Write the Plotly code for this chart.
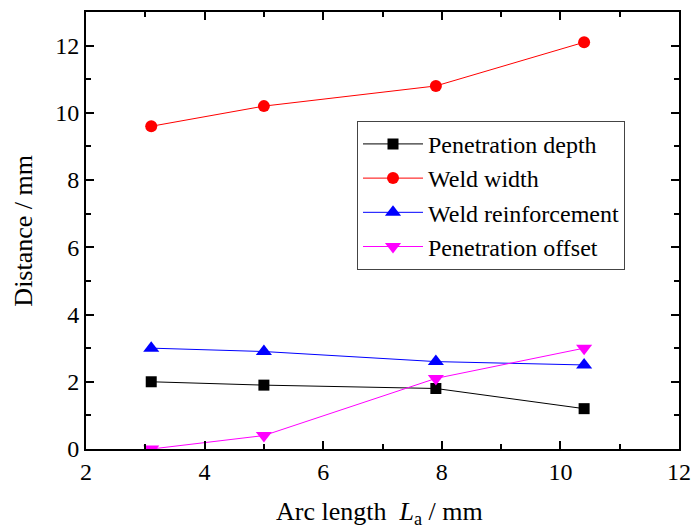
import plotly.graph_objects as go

# Arc length (mm) and measured weld geometry (mm)
arc_length = [3.1, 5.0, 7.9, 10.4]
penetration_depth = [2.0, 1.9, 1.8, 1.2]
weld_width = [9.6, 10.2, 10.8, 12.1]
weld_reinforcement = [3.0, 2.9, 2.6, 2.5]
penetration_offset = [0.0, 0.4, 2.1, 3.0]

series = [
    ("Penetration depth", penetration_depth, "black", "square", 11),
    ("Weld width", weld_width, "red", "circle", 12),
    ("Weld reinforcement", weld_reinforcement, "blue", "triangle-up", 14),
    ("Penetration offset", penetration_offset, "magenta", "triangle-down", 14),
]

FONT = "Liberation Serif"

fig = go.Figure()
for name, values, color, symbol, msize in series:
    fig.add_trace(go.Scatter(
        x=arc_length, y=values, name=name, mode="lines+markers",
        line=dict(color=color, width=1),
        marker=dict(color=color, symbol=symbol, size=msize),
    ))

axis_common = dict(
    showline=True, linecolor="black", linewidth=1.8, mirror="allticks",
    ticks="inside", ticklen=8, tickwidth=1.5, tickcolor="black",
    showgrid=False, zeroline=False, automargin=False,
    tickfont=dict(family=FONT, size=24, color="black"),
)

fig.update_xaxes(
    range=[2, 12], dtick=2, tick0=2,
    minor=dict(ticks="inside", ticklen=5, dtick=1, tickcolor="black", tickwidth=1.5),
    **axis_common,
)
fig.update_yaxes(
    range=[0, 13], dtick=2, tick0=0,
    minor=dict(ticks="inside", ticklen=5, dtick=1, tickcolor="black", tickwidth=1.5),
    **axis_common,
)

title_font = dict(family=FONT, size=26, color="black")
fig.add_annotation(
    text="Arc length  <i>L</i><sub>a</sub> / mm",
    xref="paper", yref="paper", x=0.495, y=-0.105,
    xanchor="center", yanchor="top", showarrow=False, font=title_font,
)
fig.add_annotation(
    text="Distance / mm",
    xref="paper", yref="paper", x=-0.106, y=0.5,
    xanchor="center", yanchor="middle", textangle=-90,
    showarrow=False, font=title_font,
)

fig.update_layout(
    width=695, height=531,
    margin=dict(l=86, r=16, t=12, b=82),
    plot_bgcolor="white", paper_bgcolor="white",
    showlegend=True,
    legend=dict(
        x=0.457, y=0.751, xanchor="left", yanchor="top",
        bgcolor="white", bordercolor="#444", borderwidth=1,
        font=dict(family=FONT, size=24, color="black"),
        tracegroupgap=0, itemwidth=60,
    ),
)

fig.write_html("out.html")
